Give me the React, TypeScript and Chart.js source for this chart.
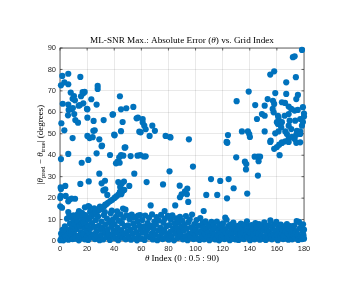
import React, { useEffect, useRef } from 'react';
import { Chart, registerables } from 'chart.js';

Chart.register(...registerables);

// ---- data: [theta index, |theta_pred - theta_true| (deg)] ----
const upperLeft: [number, number][] = [
  [1.7, 77], [6.1, 78], [3.2, 74], [0.7, 72.6], [6.1, 73.1], [15, 76.5], [2, 64], [6.1, 63.6],
  [7.9, 69.2], [10.3, 67.6], [11, 65.6], [15.5, 67.5], [17.2, 68.9], [18.2, 69.5], [14.7, 63.4],
  [17.2, 64.2], [6.4, 61.1], [8.6, 61.6], [9.5, 62], [5.9, 58.6], [11.3, 56.4], [13.3, 55.2],
  [1, 54.9], [3.2, 51.6], [9.3, 48], [20.2, 61.4], [20.2, 57.5], [23.1, 66.1], [24.8, 56],
  [25.6, 51.6], [27, 63.6], [27.8, 72.3], [27.8, 70.9], [20.2, 49], [21.8, 48], [24.1, 48.4],
  [29, 47.4], [31, 44.5], [32.2, 56.4], [39.1, 59.1], [40.3, 49.3], [44.2, 67.5], [45, 61.4],
  [46.2, 55.5], [45, 51.2], [48.9, 61.9], [48.2, 43.7], [54.1, 62.5], [56.5, 57.2], [57.5, 57.5],
  [61, 56.9], [61, 55.3], [62.2, 53.8], [63.2, 52.1], [58.5, 51], [59.5, 50.7], [66.1, 49],
  [68.1, 53.8], [70, 51.4], [77.9, 49], [81.1, 48.5], [81.5, 48.3], [10.5, 59.2], [13.8, 63.1],
  [19.9, 61.6], [38.8, 58.9], [24.6, 51.4], [40, 49.6], [9.3, 66.3], [16.7, 69.4],
];

const upperRight: [number, number][] = [
  [178.5, 89.1], [173.1, 86.1], [171.8, 85.7], [158, 79.1], [155.1, 77.6], [174, 76.4],
  [166.9, 74], [139.2, 69.7], [158.8, 69], [166.9, 68.6], [175.5, 68.1], [130.3, 65.2],
  [144, 63.4], [153.2, 66.2], [151, 63.1], [157.1, 65.4], [158, 63.9], [163.7, 64.7], [166, 64.4],
  [174.3, 66.2], [179.2, 62.4], [168.7, 62.7], [170.6, 61.6], [173.1, 60.8], [175.4, 61.1],
  [156.9, 61.6], [157.6, 60], [160.8, 58.4], [161.2, 57.4], [160, 55.4], [160.8, 54.6],
  [149, 59.2], [151, 58.4], [145.3, 56.9], [165.7, 58.4], [168.7, 59.2], [169.4, 56.1],
  [173.5, 56.1], [177.2, 56.9], [178.5, 53.8], [179.2, 55.5], [180, 59.4], [180, 58],
  [163.7, 55.4], [163.2, 53], [170.6, 52.2], [168.7, 53.8], [174.8, 51.4], [177.2, 51.1],
  [134.2, 51.1], [138.6, 51.1], [139.6, 49.9], [151, 51.1], [158.8, 50.2], [161.2, 51.1],
  [166.2, 51.1], [167.4, 49.9], [168.7, 47.6], [171.1, 48.6], [173.1, 47.6], [174.3, 49.6],
  [177.2, 49.9], [155.4, 46.8], [163.7, 46], [166.2, 46.5], [177.2, 46], [123.9, 49.4],
  [140.1, 48.5], [123.2, 46], [122.9, 46.2], [95.1, 47.4], [155.1, 46.2], [158, 43],
  [160, 43.8], [161.7, 44.9], [163.7, 45.7], [168.7, 46.2], [174.3, 45.8], [162, 40],
];

const midScatter: [number, number][] = [
  [0.7, 38.2], [6.1, 40.6], [16, 36.5], [20.9, 37.8], [27, 40.9], [30.7, 44.2], [36.9, 40.1],
  [41.3, 36.2], [42.5, 37], [43.7, 39], [45, 40.1], [46.7, 39.8], [47.7, 43.5], [44, 36.5],
  [52.1, 39.6], [57.2, 39.8], [59.2, 40], [61.9, 39.4], [63.2, 39.5], [29, 31.4], [33.2, 28.1],
  [30.7, 26.9], [21.2, 27.8], [15, 26.6], [47.2, 27.7], [45.5, 26.7], [44.4, 25.2], [54.8, 31.4],
  [51.1, 25.7], [63.9, 27.5], [0.5, 25], [0.7, 24.2], [3.9, 25.7], [32, 23.6], [34.9, 21.5],
  [33.4, 24.1], [76, 26.4], [80.8, 32.5], [88.3, 25.8], [44.2, 22.9], [45.2, 21.8], [43, 27.5],
  [123.4, 45.8], [130, 39], [136.4, 37], [137.4, 35.9], [137.2, 33.4], [146, 39.3],
  [147.6, 39.3], [146.5, 37.2], [146, 30.5], [143.6, 39.3], [98.1, 34.7], [111.4, 28.9],
  [118.2, 28], [124.4, 28.9], [128.1, 24.6], [107.9, 21.5], [116, 21.5], [123.2, 19.9],
  [138.1, 22.1], [93.9, 24.4], [92.2, 23.2], [89.7, 21.8], [93.6, 21.8], [94.6, 18.2],
  [88.5, 20.4], [106, 14], [121.9, 10.9], [66.9, 16.6], [77.2, 14], [85, 16.6], [46.5, 15.1],
];

const lowScatter: [number, number][] = [
  [0.2, 20.1], [0.5, 21], [0.2, 16.2], [1.5, 15.5], [4.2, 21], [6.1, 18.5], [7, 19.3],
  [8.6, 19.8], [11.1, 19.7], [18.4, 15.7], [21.6, 15.9], [20.9, 16.3], [25.3, 15.2], [29.5, 16],
  [33.4, 17], [6.1, 13.5], [6.9, 12], [10, 12], [18.2, 12.2], [14, 14], [12, 11.5],
];

const diagonal: [number, number][] = [
  [1, 0.6], [2.6, 1.2], [4.1, 2.1], [5.4, 2.6], [7.2, 3.6], [8.4, 4.3], [10.1, 5.1], [11.4, 5.6],
  [13.1, 6.6], [14.6, 7.2], [16.2, 8.1], [17.4, 8.8], [19.1, 9.6], [20.6, 10.2], [22.1, 11.1],
  [23.4, 11.7], [25.2, 12.6], [26.5, 13.3], [28.1, 14.1], [29.4, 14.7], [31.1, 15.6], [32.6, 16.2],
  [34.2, 17.1], [35.4, 17.8], [37.1, 18.6], [38.6, 19.2], [40.2, 20.1], [41.5, 20.8], [43.1, 21.6],
  [44.6, 22.2], [46, 23.1], [47.4, 23.8],
];

const band: [number, number][] = [
  [0.3, 0.4], [1.2, 1.8], [0.8, 3.5], [2.5, 0.3], [3.1, 2.9], [1.9, 5.2], [4.3, 1.2], [4.8, 4.4],
  [3.6, 6.8], [5.7, 2.2], [6.2, 0.6], [6.9, 5.3], [7.4, 8.1], [8.2, 2.7], [8.9, 6.4], [9.3, 0.9],
  [9.8, 9.6], [5.2, 10.4], [7.7, 11.2],
  [10.4, 3.3], [10.9, 7.8], [11.6, 1.1], [12.2, 5.6], [12.7, 9.2], [13.4, 2.4], [13.9, 0.3],
  [14.3, 6.9], [14.8, 11.3], [15.4, 4.1], [15.9, 1.6], [16.6, 9.8], [17.1, 3.2], [17.7, 6.2],
  [18.3, 0.8], [18.8, 11.9], [19.4, 4.9], [19.9, 2.1], [16.2, 13.1], [13.1, 12.6],
  [20.3, 7.4], [20.8, 0.5], [21.4, 3.8], [21.9, 10.6], [22.5, 5.9], [23.1, 1.7], [23.6, 8.4],
  [24.2, 12.8], [24.7, 3.1], [25.3, 6.6], [25.8, 0.9], [26.4, 9.7], [26.9, 4.6], [27.5, 2.2],
  [28.1, 11.4], [28.6, 7.1], [29.2, 0.4], [29.7, 5.3], [22.2, 13.6], [27.2, 13.9],
  [30.2, 2.8], [30.7, 9.1], [31.3, 6.1], [31.8, 0.7], [32.4, 12.1], [32.9, 4.2], [33.5, 7.7],
  [34.1, 1.9], [34.6, 10.5], [35.2, 5.4], [35.7, 3.3], [36.3, 8.8], [36.8, 0.5], [37.4, 12.9],
  [37.9, 6.7], [38.5, 2.6], [39.1, 10.1], [39.6, 4.7], [33.1, 13.5], [38.2, 14.2],
  [40.2, 7.9], [40.7, 1.3], [41.3, 11.3], [41.8, 3.9], [42.4, 6.2], [42.9, 0.4], [43.5, 9.4],
  [44.1, 2.7], [44.6, 12.4], [45.2, 5.1], [45.7, 8.3], [46.3, 1.6], [46.8, 10.9], [47.4, 3.4],
  [47.9, 6.9], [48.5, 0.8], [49.1, 12], [49.6, 4.4], [42.1, 13.8], [48.3, 14.6],
  [50.2, 7.3], [50.7, 2.1], [51.3, 10.2], [51.8, 5.3], [52.4, 0.6], [52.9, 12.3], [53.5, 3.6],
  [54.1, 8.1], [54.6, 1.4], [55.2, 6.4], [55.7, 11.1], [56.3, 4.1], [56.8, 0.3], [57.4, 9.2],
  [57.9, 2.8], [58.5, 7.2], [59.1, 12.1], [59.6, 5.2], [53.8, 10.9], [57.6, 11.8],
  [60.2, 1.1], [60.7, 9.8], [61.3, 3.9], [61.8, 6.8], [62.4, 0.5], [62.9, 11.9], [63.5, 4.6],
  [64.1, 2.3], [64.6, 8.4], [65.2, 5.9], [65.7, 10.8], [66.3, 1.8], [66.8, 7.1], [67.4, 3.3],
  [67.9, 12.4], [68.5, 0.7], [69.1, 5.6], [69.6, 9.1],
  [70.2, 2.9], [70.7, 7.7], [71.3, 11.2], [71.8, 0.4], [72.4, 4.8], [72.9, 9.6], [73.5, 2.1],
  [74.1, 6.3], [74.6, 12.2], [75.2, 3.7], [75.7, 0.9], [76.3, 8.6], [76.8, 5.1], [77.4, 10.4],
  [77.9, 1.5], [78.5, 6.9], [79.1, 3.2], [79.6, 11.7],
  [80.2, 0.6], [80.7, 7.4], [81.3, 4.3], [81.8, 9.9], [82.4, 2.2], [82.9, 12], [83.5, 5.7],
  [84.1, 0.3], [84.6, 8.2], [85.2, 3.6], [85.7, 10.6], [86.3, 6.1], [86.8, 1.4], [87.4, 8.9],
  [87.9, 4.5], [88.5, 11.3], [89.1, 2.7], [89.6, 6.6],
  [90.2, 9.4], [90.7, 0.8], [91.3, 4.9], [91.8, 7.6], [92.4, 2.3], [92.9, 11.6], [93.5, 5.8],
  [94.1, 0.4], [94.6, 8.7], [95.2, 3.4], [95.7, 10.1], [96.3, 1.6], [96.8, 6.4], [97.4, 12.3],
  [97.9, 4.1], [98.5, 0.9], [99.1, 7.9], [99.6, 2.8],
  [100.2, 5.3], [100.7, 9.8], [101.3, 1.2], [101.8, 3.9], [102.4, 7.1], [102.9, 0.5],
  [103.5, 10.7], [104.1, 4.6], [104.6, 2.1], [105.2, 8.3], [105.7, 6.2], [106.3, 0.8],
  [106.8, 3.3], [107.4, 9.2], [107.9, 5.5], [108.5, 1.7], [109.1, 7.8], [109.6, 3.9],
  [110.2, 0.4], [110.7, 6.6], [111.3, 2.9], [111.8, 8.9], [112.4, 4.7], [112.9, 1.3],
  [113.5, 7.3], [114.1, 3.1], [114.6, 0.7], [115.2, 5.8], [115.7, 9.1], [116.3, 2.4],
  [116.8, 4.9], [117.4, 0.3], [117.9, 7.6], [118.5, 3.6], [119.1, 1.8], [119.6, 6.1],
  [120.2, 8.2], [120.7, 2.6], [121.3, 0.9], [121.8, 5.3], [122.4, 3.7], [122.9, 9.9],
  [123.5, 1.5], [124.1, 6.9], [124.6, 4.2], [125.2, 0.4], [125.7, 7.7], [126.3, 2.8],
  [126.8, 5.6], [127.4, 1.1], [127.9, 8.6], [128.5, 3.9], [129.1, 6.3], [129.6, 0.7],
  [130.2, 4.4], [130.7, 2.1], [131.3, 7.1], [131.8, 0.5], [132.4, 5.2], [132.9, 3.1],
  [133.5, 8.1], [134.1, 1.3], [134.6, 6.4], [135.2, 3.8], [135.7, 0.9], [136.3, 7.6],
  [136.8, 2.5], [137.4, 5.1], [137.9, 9.2], [138.5, 1.7], [139.1, 4.6], [139.6, 6.9],
  [140.2, 0.4], [140.7, 3.4], [141.3, 7.4], [141.8, 1.9], [142.4, 5.7], [142.9, 2.8],
  [143.5, 0.8], [144.1, 8.3], [144.6, 4.1], [145.2, 6.2], [145.7, 1.4], [146.3, 3.6],
  [146.8, 7.9], [147.4, 0.6], [147.9, 5.4], [148.5, 2.4], [149.1, 6.7], [149.6, 1.1],
  [150.2, 4.8], [150.7, 8.7], [151.3, 2.2], [151.8, 0.5], [152.4, 6.1], [152.9, 3.7],
  [153.5, 1.3], [154.1, 7.3], [154.6, 4.5], [155.2, 9.6], [155.7, 2.6], [156.3, 0.8],
  [156.8, 5.9], [157.4, 3.2], [157.9, 7.8], [158.5, 1.6], [159.1, 4.9], [159.6, 8.9],
  [160.2, 2.9], [160.7, 0.4], [161.3, 6.4], [161.8, 4.1], [162.4, 1.7], [162.9, 7.6],
  [163.5, 3.3], [164.1, 5.5], [164.6, 0.9], [165.2, 2.5], [165.7, 6.8], [166.3, 4.4],
  [166.8, 1.2], [167.4, 7.9], [167.9, 3.6], [168.5, 0.6], [169.1, 5.7], [169.6, 2.2],
  [170.2, 6.9], [170.7, 3.8], [171.3, 0.8], [171.8, 5.1], [172.4, 2.4], [172.9, 7.2],
  [173.5, 1.3], [174.1, 4.6], [174.6, 9.3], [175.2, 3.1], [175.7, 0.5], [176.3, 8.9],
  [176.8, 5.8], [177.4, 2.1], [177.9, 6.6], [178.5, 0.9], [179.1, 4.2], [179.6, 2.7],
  [180, 1.1], [180, 5.3], [179.3, 7.8],
];

const xTicks = [0, 20, 40, 60, 80, 100, 120, 140, 160, 180];
const yTicks = [0, 10, 20, 30, 40, 50, 60, 70, 80, 90];

const MARKER_COLOR = '#0072BD';
const AXIS_COLOR = '#262626';
const SERIF = '"Liberation Serif", "DejaVu Serif", serif';
const SANS = '"Liberation Sans", Arial, sans-serif';

type Run = { t: string; font: string; dy?: number };

function drawRuns(ctx: CanvasRenderingContext2D, runs: Run[], cx: number, cy: number) {
  let total = 0;
  const widths = runs.map((r) => {
    ctx.font = r.font;
    const w = ctx.measureText(r.t).width;
    total += w;
    return w;
  });
  let x = cx - total / 2;
  ctx.textBaseline = 'middle';
  ctx.textAlign = 'left';
  runs.forEach((r, i) => {
    ctx.font = r.font;
    ctx.fillText(r.t, x, cy + (r.dy || 0));
    x += widths[i];
  });
}

const boxPlugin = {
  id: 'matlabBox',
  beforeDatasetsDraw(chart: any) {
    const { ctx, chartArea: a, scales } = chart;
    ctx.save();
    ctx.strokeStyle = AXIS_COLOR;
    ctx.lineWidth = 0.7;
    ctx.strokeRect(a.left, a.top, a.right - a.left, a.bottom - a.top);
    const tl = 2.5;
    ctx.beginPath();
    xTicks.forEach((v) => {
      const px = scales.x.getPixelForValue(v);
      ctx.moveTo(px, a.bottom);
      ctx.lineTo(px, a.bottom - tl);
      ctx.moveTo(px, a.top);
      ctx.lineTo(px, a.top + tl);
    });
    yTicks.forEach((v) => {
      const py = scales.y.getPixelForValue(v);
      ctx.moveTo(a.left, py);
      ctx.lineTo(a.left + tl, py);
      ctx.moveTo(a.right, py);
      ctx.lineTo(a.right - tl, py);
    });
    ctx.stroke();
    ctx.restore();
  },
  afterDraw(chart: any) {
    const { ctx, chartArea: a } = chart;
    ctx.save();
    ctx.fillStyle = '#000000';
    const cx = (a.left + a.right) / 2;
    // title
    drawRuns(
      ctx,
      [
        { t: 'ML-SNR Max.: Absolute Error (', font: `9.2px ${SERIF}` },
        { t: 'θ', font: `italic 9.2px ${SERIF}` },
        { t: ') vs. Grid Index', font: `9.2px ${SERIF}` },
      ],
      cx,
      a.top - 7
    );
    // x label
    drawRuns(
      ctx,
      [
        { t: 'θ', font: `italic 9px ${SERIF}` },
        { t: ' Index (0 : 0.5 : 90)', font: `9px ${SERIF}` },
      ],
      cx,
      a.bottom + 18
    );
    // y label
    ctx.save();
    ctx.translate(a.left - 19, (a.top + a.bottom) / 2);
    ctx.rotate(-Math.PI / 2);
    drawRuns(
      ctx,
      [
        { t: '|', font: `9px ${SERIF}` },
        { t: 'θ', font: `italic 9px ${SERIF}` },
        { t: 'pred', font: `6.5px ${SERIF}`, dy: 2.5 },
        { t: ' − ', font: `9px ${SERIF}` },
        { t: 'θ', font: `italic 9px ${SERIF}` },
        { t: 'true', font: `6.5px ${SERIF}`, dy: 2.5 },
        { t: '| (degrees)', font: `9px ${SERIF}` },
      ],
      0,
      0
    );
    ctx.restore();
    ctx.restore();
  },
};

export default function App() {
  const ref = useRef<HTMLCanvasElement | null>(null);

  useEffect(() => {
    if (!ref.current) return;
    const all = [...band, ...diagonal, ...lowScatter, ...midScatter, ...upperLeft, ...upperRight];
    const chart = new Chart(ref.current, {
      type: 'scatter',
      data: {
        datasets: [
          {
            data: all.map(([x, y]) => ({ x, y })),
            backgroundColor: MARKER_COLOR,
            borderWidth: 0,
            pointRadius: 3.1,
            pointHoverRadius: 3.1,
            clip: false as any,
          },
        ],
      },
      options: {
        animation: false,
        responsive: false,
        devicePixelRatio: 1,
        layout: { padding: { left: 40, right: 60, top: 48, bottom: 41 } },
        plugins: { legend: { display: false }, tooltip: { enabled: false }, title: { display: false } },
        scales: {
          x: {
            type: 'linear',
            min: 0,
            max: 180,
            afterFit: (s: any) => {
              s.height = 16;
            },
            afterBuildTicks: (s: any) => {
              s.ticks = xTicks.map((v) => ({ value: v }));
            },
            ticks: { color: AXIS_COLOR, font: { family: SANS, size: 7.5 }, padding: 3, maxRotation: 0 },
            grid: { color: 'rgba(38,38,38,0.15)', lineWidth: 0.7, drawTicks: false },
            border: { display: false },
          },
          y: {
            type: 'linear',
            min: 0,
            max: 90,
            afterFit: (s: any) => {
              s.width = 20;
            },
            afterBuildTicks: (s: any) => {
              s.ticks = yTicks.map((v) => ({ value: v }));
            },
            ticks: { color: AXIS_COLOR, font: { family: SANS, size: 7.5 }, padding: 4 },
            grid: { color: 'rgba(38,38,38,0.15)', lineWidth: 0.7, drawTicks: false },
            border: { display: false },
          },
        },
      },
      plugins: [boxPlugin],
    });
    return () => chart.destroy();
  }, []);

  return (
    <div style={{ position: 'fixed', left: 0, top: 0, width: 364, height: 298, background: '#fff' }}>
      <canvas ref={ref} width={364} height={298} style={{ display: 'block' }} />
    </div>
  );
}
